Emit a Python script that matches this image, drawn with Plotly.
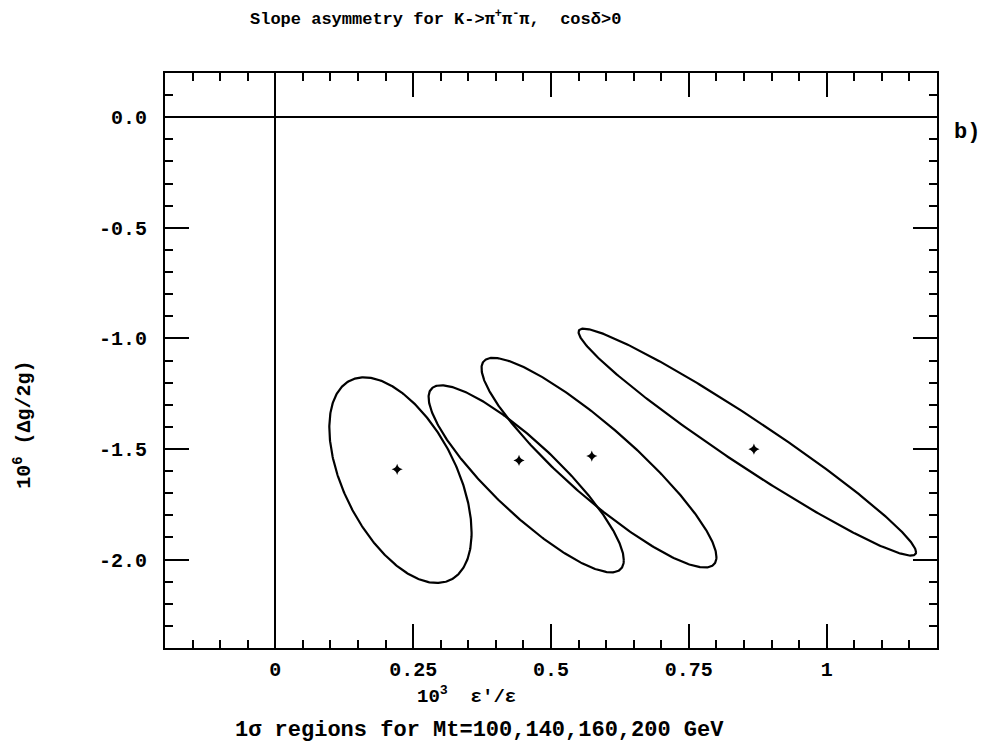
import numpy as np
import plotly.graph_objects as go

# Top-quark masses (GeV) of the four fits
mt = [100, 140, 160, 200]

# Best-fit points: 10^3 eps'/eps and 10^6 (Delta g / 2g)
fit_x = [0.221, 0.442, 0.574, 0.868]
fit_y = [-1.592, -1.552, -1.532, -1.501]

# 1 sigma regions: centre, standard deviations and correlation coefficient
ell_x = [0.227, 0.455, 0.587, 0.856]
ell_y = [-1.641, -1.635, -1.562, -1.469]
sig_x = [0.129, 0.177, 0.213, 0.306]
sig_y = [0.465, 0.423, 0.474, 0.513]
rho = [-0.51, -0.87, -0.90, -0.97]

# Axis ticks
x_major = [0, 0.25, 0.5, 0.75, 1]
x_major_text = ["0", "0.25", "0.5", "0.75", "1"]
y_major = [0.0, -0.5, -1.0, -1.5, -2.0]
y_major_text = ["0.0", "-0.5", "-1.0", "-1.5", "-2.0"]

FONT = "Liberation Mono"
INK = "black"

fig = go.Figure()

t = np.linspace(0, 2 * np.pi, 400)
for cx, cy, sx, sy, r, m in zip(ell_x, ell_y, sig_x, sig_y, rho, mt):
    ex = cx + sx * np.cos(t)
    ey = cy + sy * (r * np.cos(t) + np.sqrt(1 - r * r) * np.sin(t))
    fig.add_trace(go.Scatter(x=ex, y=ey, mode="lines", name=f"Mt={m} GeV",
                             line=dict(color=INK, width=2.2), hoverinfo="skip"))

fig.add_trace(go.Scatter(x=fit_x, y=fit_y, mode="markers", name="best fit",
                         marker=dict(symbol="star-diamond", size=8, color=INK,
                                     line=dict(width=0))))

x_minor = [round(v, 2) for v in np.arange(-0.15, 1.2, 0.05)]
y_minor = [round(v, 2) for v in np.arange(-2.3, 0.2, 0.1)]

axis_common = dict(
    showgrid=False, showline=True, linecolor=INK, linewidth=2.2, mirror="allticks",
    ticks="inside", ticklen=24, tickwidth=2, tickcolor=INK,
    zeroline=True, zerolinecolor=INK, zerolinewidth=2.2,
    tickfont=dict(family=FONT, size=20, color=INK, weight="bold"),
)

fig.update_xaxes(
    range=[-0.2, 1.2], tickmode="array", tickvals=x_major, ticktext=x_major_text,
    minor=dict(tickmode="array", tickvals=x_minor, ticks="inside", ticklen=8,
               tickwidth=2, tickcolor=INK, showgrid=False),
    ticklabelstandoff=2, **axis_common)
fig.update_yaxes(
    range=[-2.4, 0.2], tickmode="array", tickvals=y_major, ticktext=y_major_text,
    minor=dict(tickmode="array", tickvals=y_minor, ticks="inside", ticklen=8,
               tickwidth=2, tickcolor=INK, showgrid=False),
    ticklabelstandoff=12, **axis_common)

ann_font = dict(family=FONT, color=INK, weight="bold")
fig.add_annotation(text="Slope asymmetry for K->π<sup>+</sup>π<sup>-</sup>π,\u00a0\u00a0cosδ>0",
                   x=0.351, y=1.096, xref="paper", yref="paper", showarrow=False,
                   xanchor="center", yanchor="middle", font=dict(size=17, **ann_font))
fig.add_annotation(text="10<sup>3</sup>\u00a0\u00a0ε'/ε",
                   x=0.391, y=-0.082, xref="paper", yref="paper", showarrow=False,
                   xanchor="center", yanchor="middle", font=dict(size=19, **ann_font))
fig.add_annotation(text="1σ regions for Mt=100,140,160,200 GeV",
                   x=0.408, y=-0.144, xref="paper", yref="paper", showarrow=False,
                   xanchor="center", yanchor="middle", font=dict(size=22, **ann_font))
fig.add_annotation(text="10<sup>6</sup> (Δg/2g)", textangle=-90,
                   x=-0.184, y=0.388, xref="paper", yref="paper", showarrow=False,
                   xanchor="center", yanchor="middle", font=dict(size=20, **ann_font))
fig.add_annotation(text="b)",
                   x=1.039, y=0.896, xref="paper", yref="paper", showarrow=False,
                   xanchor="center", yanchor="middle", font=dict(size=22, **ann_font))

fig.update_layout(
    width=988, height=746, autosize=False,
    margin=dict(l=165, r=51, t=73, b=98),
    paper_bgcolor="white", plot_bgcolor="white",
    showlegend=False,
    font=dict(family=FONT, color=INK),
)

fig.write_html("out.html")
